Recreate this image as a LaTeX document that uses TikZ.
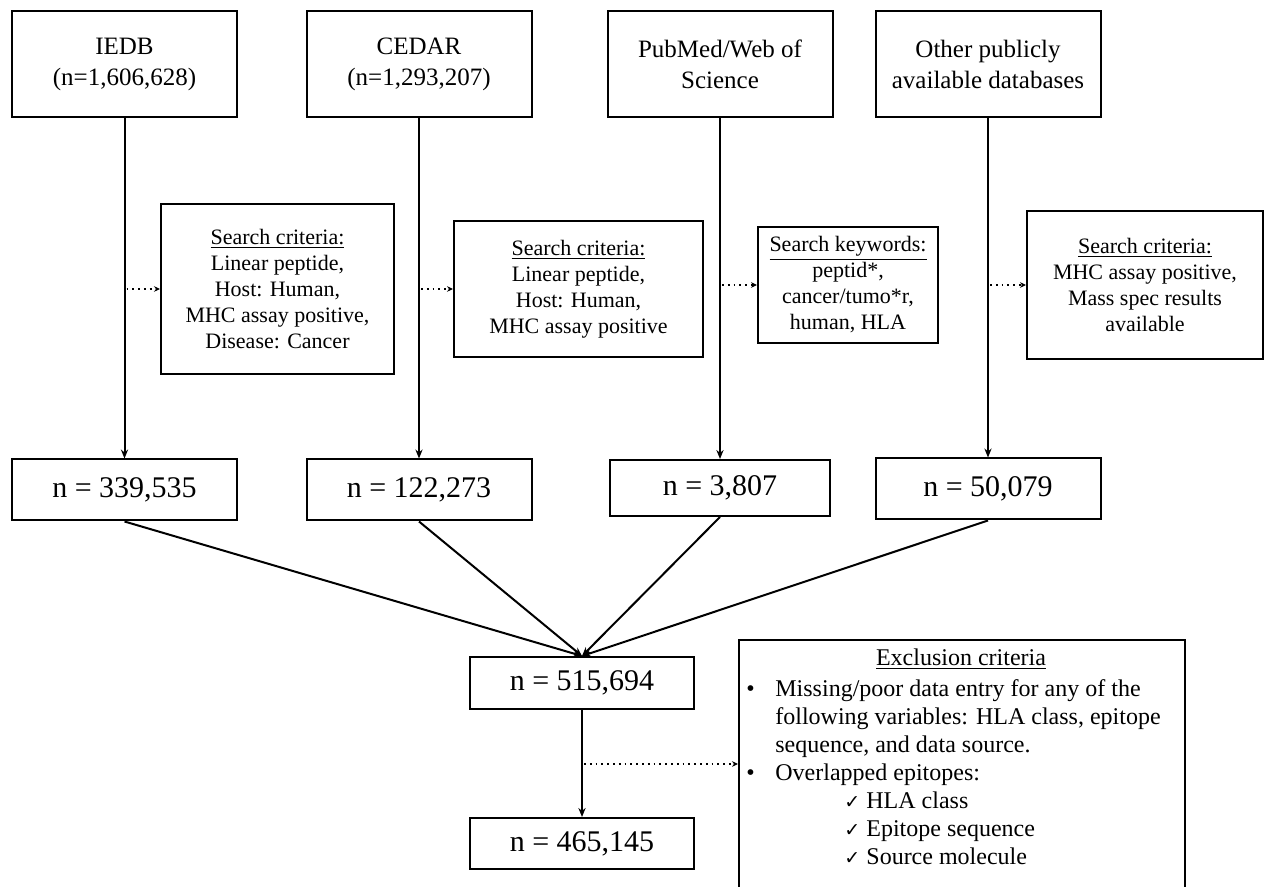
\documentclass[tikz,border=0pt]{standalone}
\usepackage{fontspec}
\setmainfont{Liberation Serif}
\newfontfamily\checkfont{DejaVu Sans}
\usetikzlibrary{arrows.meta,positioning,calc}

\begin{document}
\begin{tikzpicture}[x=0.5pt, y=-0.5pt, >={Stealth[length=4.5pt,width=3.6pt]},
		srcbox/.style={draw, line width=1pt, minimum width=112.5pt, minimum height=53pt, align=center, font=\fontsize{12.5}{15.5}\selectfont},
		critbox/.style={draw, line width=1pt, align=center, font=\fontsize{11}{13}\selectfont},
		countbox/.style={draw, line width=1pt, minimum width=112.5pt, minimum height=30.5pt, font=\fontsize{15}{18}\selectfont},
		flowLine/.style={line width=1pt, ->},
		dotLine/.style={line width=0.9pt, dotted, -{Stealth[length=3pt,width=2.8pt]}},
		]
		
		\useasboundingbox (0,0) rectangle (1265,887);
		
		\node[srcbox] (iedb) at (124.5,64) {IEDB\\(n=1,606,628)};
		\node[srcbox] (cedar) at (419,64) {CEDAR\\(n=1,293,207)};
		\node[srcbox] (pubmed) at (720,64) {PubMed/Web of\\Science};
		\node[srcbox] (other) at (988,64) {Other publicly\\available databases};
		
		\node[critbox, minimum width=116.5pt, minimum height=85pt] (crit1) at (277.5,289) {\underline{Search criteria:}\\Linear peptide,\\Host: Human,\\MHC assay positive,\\Disease: Cancer};
		\node[critbox, minimum width=124.5pt, minimum height=68pt] (crit2) at (578.5,289) {\underline{Search criteria:}\\Linear peptide,\\Host: Human,\\MHC assay positive};
		\node[critbox, minimum width=90pt, minimum height=58pt] (crit3) at (848,285) {\underline{Search keywords:}\\peptid*,\\cancer/tumo*r,\\human, HLA};
		\node[critbox, minimum width=118pt, minimum height=74pt] (crit4) at (1145,285) {\underline{Search criteria:}\\MHC assay positive,\\Mass spec results\\available};
		
		\node[countbox] (n1) at (124.5,490) {n = 339,535};
		\node[countbox] (n2) at (419,490) {n = 122,273};
		\node[countbox, minimum width=110pt, minimum height=28pt] (n3) at (720,488) {n = 3,807};
		\node[countbox] (n4) at (988,489) {n = 50,079};
		
		\node[countbox, minimum width=112pt, minimum height=26pt] (merge) at (582,683) {n = 515,694};
		\node[countbox, minimum width=112pt, minimum height=25.5pt] (final) at (582,843.5) {n = 465,145};
		
		\node[draw, line width=1pt, minimum width=223pt, minimum height=140pt, anchor=north west] (excl) at (738,639) {};
		\node[font=\fontsize{12}{14}\selectfont] (excltitle) at (961,659) {\underline{Exclusion criteria}};
		\node[anchor=north west, align=left, inner sep=0pt, font=\fontsize{12}{14}\selectfont] (excltext) at (746,679) {%
			\makebox[14.5pt][l]{•}Missing/poor data entry for any of the\\
			\hspace*{14.5pt}following variables: HLA class, epitope\\
			\hspace*{14.5pt}sequence, and data source.\\
			\makebox[14.5pt][l]{•}Overlapped epitopes:\\
			\hspace*{49pt}\makebox[11pt][l]{\checkfont\fontsize{9.5}{9.5}\selectfont ✓}HLA class\\
			\hspace*{49pt}\makebox[11pt][l]{\checkfont\fontsize{9.5}{9.5}\selectfont ✓}Epitope sequence\\
			\hspace*{49pt}\makebox[11pt][l]{\checkfont\fontsize{9.5}{9.5}\selectfont ✓}Source molecule};
		
		\coordinate (d1) at (iedb.south |- crit1.west);
		\coordinate (d2) at (cedar.south |- crit2.west);
		\coordinate (d3) at (pubmed.south |- crit3.west);
		\coordinate (d4) at (other.south |- crit4.west);
		\coordinate (d5) at (merge.south |- 0,764);
		
		\draw [flowLine] (iedb.south) -- (iedb.south |- n1.north);
		\draw [flowLine] (cedar.south) -- (cedar.south |- n2.north);
		\draw [flowLine] (pubmed.south) -- (pubmed.south |- n3.north);
		\draw [flowLine] (other.south) -- (other.south |- n4.north);
		
		\draw [dotLine] ([xshift=1pt]d1) -- (crit1.west);
		\draw [dotLine] ([xshift=1pt]d2) -- (crit2.west);
		\draw [dotLine] ([xshift=1pt]d3) -- (crit3.west);
		\draw [dotLine] ([xshift=1pt]d4) -- (crit4.west);
		
		\draw [flowLine] (n1.south) -- (merge.north);
		\draw [flowLine] (n2.south) -- (merge.north);
		\draw [flowLine] (n3.south) -- (merge.north);
		\draw [flowLine] (n4.south) -- (merge.north);
		
		\draw [flowLine] (merge) -- (final);
		\draw [dotLine] ([xshift=1pt]d5) -- (d5 -| excl.west);
		
\end{tikzpicture}
\end{document}
